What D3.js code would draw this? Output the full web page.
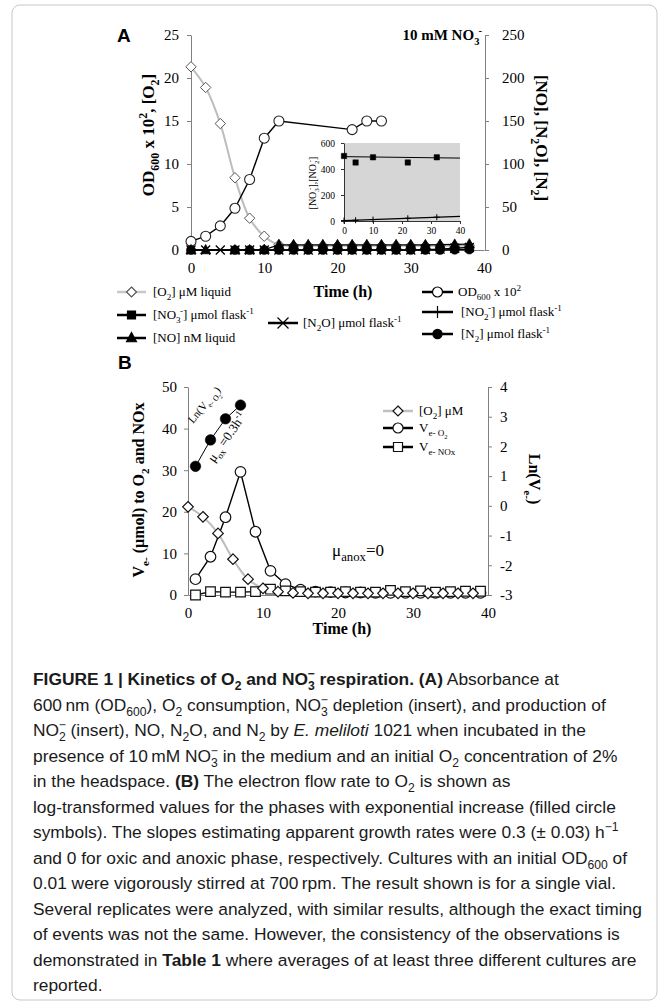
<!DOCTYPE html>
<html><head><meta charset="utf-8">
<script src="https://cdn.jsdelivr.net/npm/d3@7"></script>
<style>body{margin:0;background:#fff} svg{display:block}</style>
</head><body>
<script>
// ---------------- DATA ----------------
// Panel A (main)
const aTimes   = [0,2,4,6,8,10,12,14,16,18,20,22,24,26,28,30,32,34,36,38];
const o2A      = [21.3,18.9,14.7,8.4,3.7,1.6,0.6,0.5,0.5,0.5,0.5,0.5,0.5,0.5,0.5,0.5,0.5,0.5,0.5,0.5];
const odTimes  = [0,2,4,6,8,10,12,22,24,26];
const odA      = [1.0,1.6,2.8,4.85,8.2,13.0,15.0,14.0,15.0,15.0];
const noTimes  = [0,2,6,8,10,12,14,16,18,20,22,24,26,28,30,32,34,36,38];
const noA      = [0,0,0,0,0.5,6,6,6,6,6,6,6,6,6,6,6,6.3,6.5,6.8];
const n2oA     = [0,0,0,0,0,0,0,0,0,0,0,0,0,0,0,0,0.5,1,2,3];
const n2Times  = [0,6,8,10,12,14,16,18,20,22,24,26,28,30,32,34,36,38];
const n2A      = [0,0,0,0,0,0,0,0,0,0,0,0,0,0,0,0,0.3,0.6];
// Panel A inset
const insetTimes   = [0,4,10,22,32];
const nitrate      = [500,450,490,450,490];
const nitrite      = [3,6,11,21,29];
const fitTimes     = [0,40];
const nitrateFit   = [495,484];
const nitriteFit   = [3,35];
// Panel B
const bO2Times  = [0,2,4,6,8,10,12,14,16,18,20,22,24,26,28,30,32,34,36,38];
const bO2       = [21.2,18.8,14.8,8.6,3.8,1.6,0.8,0.5,0.4,0.4,0.4,0.4,0.4,0.4,0.4,0.4,0.4,0.4,0.4,0.4];
const veTimes   = [1,3,5,7,9,11,13,15,17,19,21,23,25,27,29,31,33,35,37,39];
const veO2      = [3.8,9.2,18.7,29.6,15.2,5.8,2.6,1.3,0.8,0.7,0.6,0.6,0.5,0.5,0.5,0.5,0.5,0.5,0.5,0.5];
const veNOx     = [0,0.8,0.7,0.7,0.8,1.4,1.0,0.8,0.7,0.7,0.8,0.7,0.7,1.1,0.8,1.0,0.7,0.8,0.9,0.9];
const lnTimes   = [1,3,5,7];
const lnVeO2    = [1.33,2.22,2.93,3.39];
// Tick values
const xTicks   = [0,10,20,30,40];
const aLTicks  = [0,5,10,15,20,25];
const aRTicks  = [0,50,100,150,200,250];
const inYTicks = [0,200,400,600];
const inXTicks = [0,10,20,30,40];
const bLTicks  = [0,10,20,30,40,50];
const bRTicks  = [-3,-2,-1,0,1,2,3,4];

// ---------------- SETUP ----------------
const serif = "'Liberation Serif','Times New Roman',serif";
const sans  = "'Liberation Sans',Arial,Helvetica,sans-serif";
const svg = d3.select('body').append('svg').attr('width',669).attr('height',1005);
svg.append('rect').attr('width',669).attr('height',1005).attr('fill','#fff');
svg.append('rect').attr('x',12).attr('y',5).attr('width',645).attr('height',995)
  .attr('rx',8).attr('fill','none').attr('stroke','#c8c8c8').attr('stroke-width',1);

function rich(g, x, y, segs, base){
  const t = g.append('text').attr('x',x).attr('y',y)
    .style('font-family',base.family).style('font-size',base.size+'px').attr('fill',base.fill||'#000');
  if(base.weight) t.style('font-weight',base.weight);
  if(base.anchor) t.attr('text-anchor',base.anchor);
  if(base.transform) t.attr('transform',base.transform);
  let cur = 0;
  segs.forEach(s=>{
    if(typeof s==='string') s={t:s};
    const sc = s.scale || ((s.sub||s.sup)?0.7:1);
    let off = s.sub ? 0.3 : s.sup ? -0.4 : 0;
    if(s.off!==undefined) off = s.off;
    const target = off*base.size;
    const ts = t.append('tspan').text(s.t).style('font-size',(base.size*sc)+'px').attr('dy',target-cur);
    if(s.dx) ts.attr('dx',s.dx*base.size/17);
    if(s.b) ts.style('font-weight','bold');
    if(s.i) ts.style('font-style','italic');
    cur = target;
  });
  return t;
}
const M = {
  diamond: r=>`M0,${-r}L${r},0L0,${r}L${-r},0Z`,
  circle: r=>`M${r},0A${r},${r},0,1,1,${-r},0A${r},${r},0,1,1,${r},0Z`,
  square: r=>`M${-r},${-r}H${r}V${r}H${-r}Z`,
  triangle: r=>`M0,${-r*1.1}L${r},${r*0.75}L${-r},${r*0.75}Z`,
  cross: r=>`M${-r},${-r}L${r},${r}M${r},${-r}L${-r},${r}`,
  plus: r=>`M${-r},0H${r}M0,${-r}V${r}`
};
function markers(g, pts, x, y, path, fill, stroke, sw){
  g.append('g').selectAll('path').data(pts).join('path')
    .attr('d',path).attr('transform',d=>`translate(${x(d[0])},${y(d[1])})`)
    .attr('fill',fill).attr('stroke',stroke).attr('stroke-width',sw||1.2);
}
function line(g, pts, x, y, color, w, curve){
  const l = d3.line().x(d=>x(d[0])).y(d=>y(d[1]));
  if(curve) l.curve(curve);
  g.append('path').datum(pts).attr('d',l).attr('fill','none').attr('stroke',color).attr('stroke-width',w);
}
function styleAxis(g, fs, color){
  g.attr('font-family',serif).attr('font-size',fs);
  g.select('.domain').attr('stroke',color);
  g.selectAll('.tick line').attr('stroke',color);
  g.selectAll('.tick text').attr('fill','#000');
}

// ---------------- PANEL A ----------------
const xA  = d3.scaleLinear().domain([0,40]).range([191,484]);
const yAL = d3.scaleLinear().domain([0,25]).range([250,35]);
const yAR = d3.scaleLinear().domain([0,250]).range([250,35]);
const A = svg.append('g');

A.append('text').attr('x',117).attr('y',42).text('A')
  .style('font-family',sans).style('font-weight','bold').style('font-size','19px');

styleAxis(A.append('g').attr('transform','translate(191,0)')
  .call(d3.axisLeft(yAL).tickValues(aLTicks).tickSize(4).tickPadding(8).tickSizeOuter(0)),15,'#808080');
styleAxis(A.append('g').attr('transform','translate(485,0)')
  .call(d3.axisRight(yAR).tickValues(aRTicks).tickSize(4).tickPadding(13).tickSizeOuter(0)),15,'#808080');
styleAxis(A.append('g').attr('transform','translate(0,250)')
  .call(d3.axisBottom(xA).tickValues(xTicks).tickSize(0).tickPadding(12)),15,'#808080');

rich(A,0,0,['OD',{t:'600',sub:1},' x 10',{t:'2',sup:1},', [O',{t:'2',sub:1},']'],
  {family:serif,size:17,weight:'bold',anchor:'middle',transform:'translate(154,135) rotate(-90)'});
rich(A,0,0,['[NO], [N',{t:'2',sub:1},'O], [N',{t:'2',sub:1},']'],
  {family:serif,size:17,weight:'bold',anchor:'middle',transform:'translate(536,138) rotate(90)'});
rich(A,482,40,['10 mM NO',{t:'3',sub:1},{t:'-',sup:1,dx:-1}],
  {family:serif,size:15,weight:'bold',anchor:'end'});
A.append('text').attr('x',343).attr('y',297).attr('text-anchor','middle').text('Time (h)')
  .style('font-family',serif).style('font-weight','bold').style('font-size','16px');

// inset
const xI = d3.scaleLinear().domain([0,40]).range([344,460]);
const yI = d3.scaleLinear().domain([0,600]).range([221,143]);
const I = A.append('g');
I.append('rect').attr('x',xI(0)).attr('y',yI(600)).attr('width',xI(40)-xI(0)).attr('height',yI(0)-yI(600)).attr('fill','#d6d6d6');
styleAxis(I.append('g').attr('transform',`translate(${xI(0)},0)`)
  .call(d3.axisLeft(yI).tickValues(inYTicks).tickSize(3).tickPadding(6).tickSizeOuter(0)),9.5,'#333');
styleAxis(I.append('g').attr('transform',`translate(0,${yI(0)})`)
  .call(d3.axisBottom(xI).tickValues(inXTicks).tickSize(3).tickPadding(3).tickSizeOuter(0)),9.5,'#333');
rich(I,0,0,['[NO',{t:'3',sub:1},{t:'-',sup:1,dx:-3},'],[NO',{t:'2',sub:1},{t:'-',sup:1,dx:-3},']'],
  {family:serif,size:10,anchor:'middle',transform:'translate(315.5,183) rotate(-90)'});
line(I, d3.zip(fitTimes,nitrateFit), xI, yI, '#000', 1);
line(I, d3.zip(fitTimes,nitriteFit), xI, yI, '#000', 1.2);
markers(I, d3.zip(insetTimes,nitrite), xI, yI, M.plus(3), 'none', '#000', 1);
markers(I, d3.zip(insetTimes,nitrate), xI, yI, M.square(2.7), '#000', '#000', 0.5);

// main series
line(A, d3.zip(aTimes,o2A), xA, yAL, '#bdbdbd', 2, d3.curveCatmullRom);
markers(A, d3.zip(aTimes,o2A), xA, yAL, M.diamond(5.2), '#fff', '#555', 1);
line(A, d3.zip(odTimes,odA), xA, yAL, '#000', 1.4);
markers(A, d3.zip(odTimes,odA), xA, yAL, M.circle(5), '#fff', '#222', 1.1);
line(A, d3.zip(aTimes,n2oA), xA, yAR, '#000', 1.4);
markers(A, d3.zip(aTimes,n2oA), xA, yAR, M.cross(4.5), 'none', '#000', 1.3);
line(A, d3.zip(noTimes,noA), xA, yAR, '#000', 1.4);
markers(A, d3.zip(noTimes,noA), xA, yAR, M.triangle(5), '#000', '#000', 0.8);
line(A, d3.zip(n2Times,n2A), xA, yAR, '#000', 1.4);
markers(A, d3.zip(n2Times,n2A), xA, yAR, M.circle(4.6), '#000', '#000', 0.5);

// legend A
function legend(g, x1, x2, y, color, w, path, fill, stroke, tx, segs, fs){
  g.append('line').attr('x1',x1).attr('x2',x2).attr('y1',y).attr('y2',y).attr('stroke',color).attr('stroke-width',w);
  g.append('path').attr('d',path).attr('transform',`translate(${(x1+x2)/2},${y})`)
    .attr('fill',fill).attr('stroke',stroke).attr('stroke-width',1.2);
  rich(g, tx, y+4, segs, {family:serif,size:fs||13});
}
legend(A,117,146,292,'#c8c8c8',2.5,M.diamond(5),'#fff','#555',153,['[O',{t:'2',sub:1},'] μM liquid']);
legend(A,117,146,315,'#000',2.5,M.square(4),'#000','#000',153,['[NO',{t:'3',sub:1},{t:'-',sup:1,dx:-1},'] μmol flask',{t:'-1',sup:1}]);
legend(A,117,146,338,'#000',2.5,M.triangle(5),'#000','#000',153,['[NO] nM liquid']);
legend(A,268,298,323,'#000',2.5,M.cross(5.5),'none','#000',303,['[N',{t:'2',sub:1},'O] μmol flask',{t:'-1',sup:1}]);
legend(A,422,453,292,'#000',2.5,M.circle(5),'#fff','#000',458,['OD',{t:'600',sub:1},' x 10',{t:'2',sup:1}]);
legend(A,422,453,312,'#000',2.5,M.plus(6),'none','#000',461,['[NO',{t:'2',sub:1},{t:'-',sup:1,dx:-1},'] μmol flask',{t:'-1',sup:1}]);
legend(A,422,453,334,'#000',2.5,M.circle(4.6),'#000','#000',461,['[N',{t:'2',sub:1},'] μmol flask',{t:'-1',sup:1}]);

// ---------------- PANEL B ----------------
const xB  = d3.scaleLinear().domain([0,40]).range([188,488]);
const yBL = d3.scaleLinear().domain([0,50]).range([595,387]);
const yBR = d3.scaleLinear().domain([-3,4]).range([595,387]);
const B = svg.append('g');
B.append('text').attr('x',118).attr('y',369).text('B')
  .style('font-family',sans).style('font-weight','bold').style('font-size','19px');
styleAxis(B.append('g').attr('transform','translate(188,0)')
  .call(d3.axisLeft(yBL).tickValues(bLTicks).tickSize(4).tickPadding(7).tickSizeOuter(0)),15,'#808080');
styleAxis(B.append('g').attr('transform','translate(488,0)')
  .call(d3.axisRight(yBR).tickValues(bRTicks).tickSize(4).tickPadding(8).tickSizeOuter(0).tickFormat(d=>d<0?'-'+(-d):d)),15,'#808080');
styleAxis(B.append('g').attr('transform','translate(0,595)')
  .call(d3.axisBottom(xB).tickValues(xTicks).tickSize(0).tickPadding(12)),15,'#808080');
B.append('text').attr('x',342).attr('y',634).attr('text-anchor','middle').text('Time (h)')
  .style('font-family',serif).style('font-weight','bold').style('font-size','16px');
rich(B,0,0,['V',{t:'e-',sub:1},' (μmol) to O',{t:'2',sub:1},' and NOx'],
  {family:serif,size:16,weight:'bold',anchor:'middle',transform:'translate(144,490) rotate(-90)'});
rich(B,0,0,['Ln(V',{t:'e-',sub:1},{t:')',off:0}],
  {family:serif,size:16,weight:'bold',anchor:'middle',transform:'translate(529,479) rotate(90)'});

line(B, d3.zip(bO2Times,bO2), xB, yBL, '#bdbdbd', 2, d3.curveCatmullRom);
line(B, d3.zip(veTimes,veO2), xB, yBL, '#000', 1.4);
markers(B, d3.zip(veTimes,veO2), xB, yBL, M.circle(5.3), '#fff', '#111', 1.2);
line(B, d3.zip(veTimes,veNOx), xB, yBL, '#000', 1.4);
markers(B, d3.zip(veTimes,veNOx), xB, yBL, M.square(4.8), '#fff', '#111', 1.2);
markers(B, d3.zip(bO2Times,bO2), xB, yBL, M.diamond(5.3), '#fff', '#111', 1.2);
line(B, d3.zip(lnTimes,lnVeO2), xB, yBR, '#000', 1);
markers(B, d3.zip(lnTimes,lnVeO2), xB, yBR, M.circle(5.3), '#000', '#000', 0.5);

rich(B,0,0,['Ln(V',{t:'e- O',sub:1},{t:'2',off:0.5,scale:0.5},{t:')',off:0}],
  {family:serif,size:11,transform:'translate(193,424) rotate(-50)'});
rich(B,0,0,['μ',{t:'ox',sub:1},' =0.3h',{t:'-1',sup:1}],
  {family:serif,size:13,transform:'translate(214,463) rotate(-55)'});
rich(B,332,556,['μ',{t:'anox',sub:1,scale:0.75},{t:'=0',off:0}],{family:serif,size:17});

function legendB(y, color, w, path, segs){
  B.append('line').attr('x1',383).attr('x2',413).attr('y1',y).attr('y2',y).attr('stroke',color).attr('stroke-width',w);
  B.append('path').attr('d',path).attr('transform',`translate(398,${y})`).attr('fill','#fff').attr('stroke','#111').attr('stroke-width',1.2);
  rich(B,419,y+4,segs,{family:serif,size:13});
}
legendB(411,'#c0c0c0',2.5,M.diamond(5),['[O',{t:'2',sub:1},'] μM']);
legendB(428,'#000',2.5,M.circle(5),['V',{t:'e- O',sub:1},{t:'2',off:0.55,scale:0.5}]);
legendB(447,'#000',2.5,M.square(4.5),['V',{t:'e- NOx',sub:1}]);

// ---------------- CAPTION ----------------
const S3 = [{t:'3',sub:1},{t:'−',sup:1,dx:-7}];
const S2m = [{t:'2',sub:1},{t:'−',sup:1,dx:-7}];
const capLines = [
  [{t:'FIGURE 1 | Kinetics of O',b:1},{t:'2',sub:1,b:1},{t:' and NO',b:1},{t:'3',sub:1,b:1},{t:'−',sup:1,b:1,dx:-7},{t:' respiration. (A)',b:1},' Absorbance at'],
  ['600\u2009nm (OD',{t:'600',sub:1},'), O',{t:'2',sub:1},' consumption, NO',...S3,' depletion (insert), and production of'],
  ['NO',...S2m,' (insert), NO, N',{t:'2',sub:1},'O, and N',{t:'2',sub:1},' by ',{t:'E. meliloti',i:1},' 1021 when incubated in the'],
  ['presence of 10\u2009mM NO',...S3,' in the medium and an initial O',{t:'2',sub:1},' concentration of 2%'],
  ['in the headspace. ',{t:'(B)',b:1},' The electron flow rate to O',{t:'2',sub:1},' is shown as'],
  ['log-transformed values for the phases with exponential increase (filled circle'],
  ['symbols). The slopes estimating apparent growth rates were 0.3 (± 0.03) h',{t:'−1',sup:1}],
  ['and 0 for oxic and anoxic phase, respectively. Cultures with an initial OD',{t:'600',sub:1},' of'],
  ['0.01 were vigorously stirred at 700\u2009rpm. The result shown is for a single vial.'],
  ['Several replicates were analyzed, with similar results, although the exact timing'],
  ['of events was not the same. However, the consistency of the observations is'],
  ['demonstrated in ',{t:'Table 1',b:1},' where averages of at least three different cultures are'],
  ['reported.']
];
const C = svg.append('g');
// fit the caption font so the widest line spans the caption width
let maxW = 0;
capLines.forEach(segs=>{
  const p = rich(C,33,-100,segs,{family:sans,size:17});
  maxW = Math.max(maxW, p.node().getComputedTextLength());
  p.remove();
});
const capSize = 17*609/maxW;
capLines.forEach((segs,i)=>{
  rich(C,33,685+i*25.5,segs,{family:sans,size:capSize,fill:'#1a1a1a'});
});
</script>
</body></html>
